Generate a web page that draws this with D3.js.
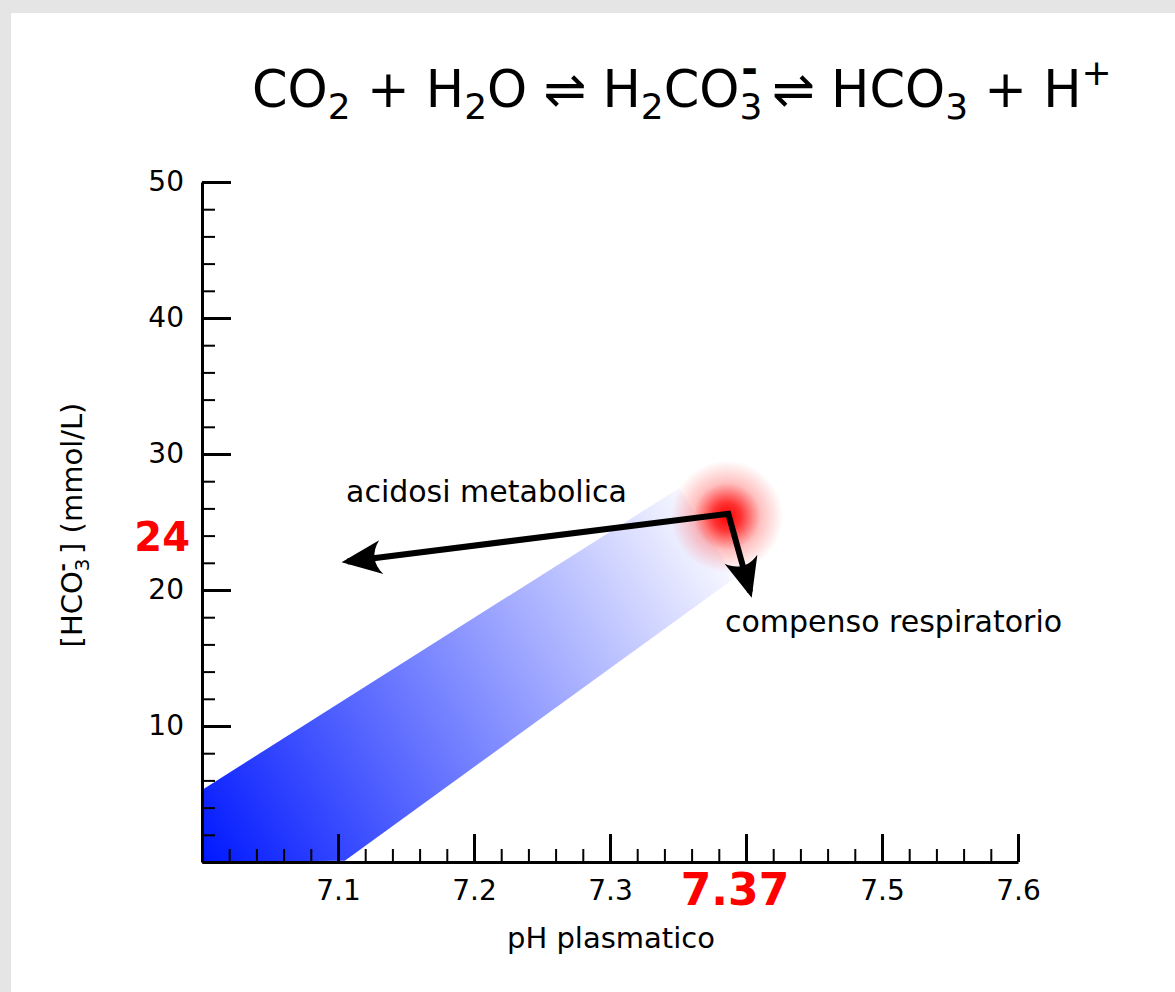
<!DOCTYPE html>
<html>
<head>
<meta charset="utf-8">
<script src="https://cdn.jsdelivr.net/npm/d3@7"></script>
<style>
  body { margin: 0; }
  text { font-family: "DejaVu Sans", sans-serif; }
</style>
</head>
<body>
<div id="chart"></div>
<script>
// ---- data ----
const xMajorTicks = [7.1, 7.2, 7.3, 7.4, 7.5, 7.6];
const yMajorTicks = [10, 20, 30, 40, 50];
// shaded band (pH, HCO3-)
const bandPH   = [7.0, 7.0, 7.105, 7.392, 7.351];
const bandHCO3 = [5.3, 0, 0.1, 20.9, 27.5];
// arrows: acidosi metabolica end, normal point, compenso respiratorio end
const arrowPH   = [7.107, 7.387, 7.403];
const arrowHCO3 = [22.1, 25.6, 19.85];
const normalPH = 7.386, normalHCO3 = 25.4;
const markPH = "7.37", markHCO3 = "24";

const W = 1175, H = 992;

const svg = d3.select("#chart")
  .append("svg")
    .attr("width", W)
    .attr("height", H);

// page background + white sheet
svg.append("rect").attr("width", W).attr("height", H).attr("fill", "#e5e5e5");
svg.append("rect").attr("x", 11).attr("y", 13).attr("width", W - 11).attr("height", H - 13).attr("fill", "#fff");

const x = d3.scaleLinear().domain([7.0, 7.6]).range([202, 1018]);
const y = d3.scaleLinear().domain([0, 50]).range([862, 182]);

const defs = svg.append("defs");

// band gradient
const bg = defs.append("linearGradient")
  .attr("id", "bandGrad")
  .attr("gradientUnits", "userSpaceOnUse")
  .attr("x1", x(7.0)).attr("y1", y(0))
  .attr("x2", x(7.39)).attr("y2", y(24));
bg.append("stop").attr("offset", 0).attr("stop-color", "#0018ff").attr("stop-opacity", 1);
bg.append("stop").attr("offset", 1).attr("stop-color", "#0018ff").attr("stop-opacity", 0);

// red glow
const rg = defs.append("radialGradient").attr("id", "glow");
rg.append("stop").attr("offset", 0).attr("stop-color", "#ff0000").attr("stop-opacity", 1);
rg.append("stop").attr("offset", 0.25).attr("stop-color", "#ff0000").attr("stop-opacity", 0.8);
rg.append("stop").attr("offset", 0.6).attr("stop-color", "#ff0000").attr("stop-opacity", 0.25);
rg.append("stop").attr("offset", 1).attr("stop-color", "#ff0000").attr("stop-opacity", 0);

// arrow head
defs.append("marker")
  .attr("id", "head")
  .attr("markerUnits", "userSpaceOnUse")
  .attr("viewBox", "-42 -20 46 40")
  .attr("refX", -6).attr("refY", 0)
  .attr("markerWidth", 46).attr("markerHeight", 40)
  .attr("orient", "auto-start-reverse")
  .append("path")
    .attr("d", "M0,0 L-40,-17 C-31,-6 -31,6 -40,17 Z")
    .attr("fill", "#000");

// band
const bandData = bandPH.map((p, i) => [x(p), y(bandHCO3[i])]);
svg.append("path")
  .attr("d", d3.line()(bandData) + "Z")
  .attr("fill", "url(#bandGrad)");

// glow
svg.append("circle")
  .attr("cx", x(normalPH)).attr("cy", y(normalHCO3))
  .attr("r", 56)
  .attr("fill", "url(#glow)");

// axes
const axisStyle = g => {
  g.select(".domain").attr("stroke-width", 3);
  g.selectAll(".tick line").attr("stroke-width", 3);
  g.selectAll(".tick text").attr("font-family", "DejaVu Sans").attr("fill", "#000");
};

// minor ticks
svg.append("g")
  .attr("transform", `translate(0,${y(0)})`)
  .call(d3.axisBottom(x).ticks(30).tickSize(-13).tickSizeOuter(0).tickFormat(""))
  .call(g => { g.select(".domain").remove(); g.selectAll(".tick line").attr("stroke-width", 2); });
svg.append("g")
  .attr("transform", `translate(${x(7.0)},0)`)
  .call(d3.axisLeft(y).ticks(25).tickSize(-13).tickSizeOuter(0).tickFormat(""))
  .call(g => { g.select(".domain").remove(); g.selectAll(".tick line").attr("stroke-width", 2); });

// major ticks
svg.append("g")
  .attr("transform", `translate(0,${y(0)})`)
  .call(d3.axisBottom(x).tickValues(xMajorTicks).tickSize(-28).tickSizeOuter(0).tickPadding(18)
    .tickFormat(d => d === 7.4 ? "" : d3.format(".1f")(d)))
  .call(axisStyle)
  .call(g => g.selectAll(".tick text").attr("font-size", 28));
svg.append("g")
  .attr("transform", `translate(${x(7.0)},0)`)
  .call(d3.axisLeft(y).tickValues(yMajorTicks).tickSize(-29).tickSizeOuter(0).tickPadding(18))
  .call(axisStyle)
  .call(g => g.selectAll(".tick text").attr("font-size", 28));

// highlighted values
svg.append("text")
  .attr("x", x(7.4) - 11).attr("y", y(0) + 43)
  .attr("text-anchor", "middle")
  .attr("font-size", 44).attr("font-weight", "bold").attr("fill", "#ff0000")
  .text(markPH);
svg.append("text")
  .attr("x", 190).attr("y", y(+markHCO3) + 15)
  .attr("text-anchor", "end")
  .attr("font-size", 40).attr("font-weight", "bold").attr("fill", "#ff0000")
  .text(markHCO3);

// axis titles
svg.append("text")
  .attr("x", 611).attr("y", 948)
  .attr("text-anchor", "middle")
  .attr("font-size", 29)
  .text("pH plasmatico");

const yl = svg.append("text")
  .attr("transform", "translate(82,525) rotate(-90)")
  .attr("text-anchor", "middle")
  .attr("font-size", 29);
yl.append("tspan").text("[HCO");
yl.append("tspan").attr("font-size", 20).attr("dy", 7).text("3");
yl.append("tspan").attr("font-size", 20).attr("font-weight", "bold").attr("dx", -13).attr("dy", -20).text("-");
yl.append("tspan").attr("font-size", 29).attr("dy", 13).text(" ] (mmol/L)");

// arrows
const arrowData = arrowPH.map((p, i) => [x(p), y(arrowHCO3[i])]);
svg.append("path")
  .attr("d", d3.line()(arrowData))
  .attr("fill", "none")
  .attr("stroke", "#000")
  .attr("stroke-width", 6)
  .attr("stroke-linejoin", "miter")
  .attr("marker-start", "url(#head)")
  .attr("marker-end", "url(#head)");

svg.append("text")
  .attr("x", 346).attr("y", 502)
  .attr("font-size", 30)
  .text("acidosi metabolica");
svg.append("text")
  .attr("x", 725).attr("y", 632)
  .attr("font-size", 30)
  .text("compenso respiratorio");

// title equation: [text, size, dx, baseline offset]
const titleParts = [
  ["CO", 51, 0, 0], ["2", 36, 0, 12], [" + H", 51, 0, 0], ["2", 36, 0, 12],
  ["O \u21CC H", 51, 0, 0], ["2", 36, 0, 12], ["CO", 51, 0, 0], ["3", 36, 0, 12],
  ["-", 40, -21, -24], ["\u2009\u21CC HCO", 51, 4, 0], ["3", 36, 0, 12],
  [" + H", 51, 0, 0], ["+", 36, 0, -22]
];
const t = svg.append("text")
  .attr("x", 252).attr("y", 107);
let prev = 0;
titleParts.forEach(([s, fs, dx, off]) => {
  t.append("tspan")
    .attr("font-size", fs)
    .attr("font-weight", s === "-" ? "bold" : null)
    .attr("dx", dx)
    .attr("dy", off - prev)
    .text(s);
  prev = off;
});
</script>
</body>
</html>
